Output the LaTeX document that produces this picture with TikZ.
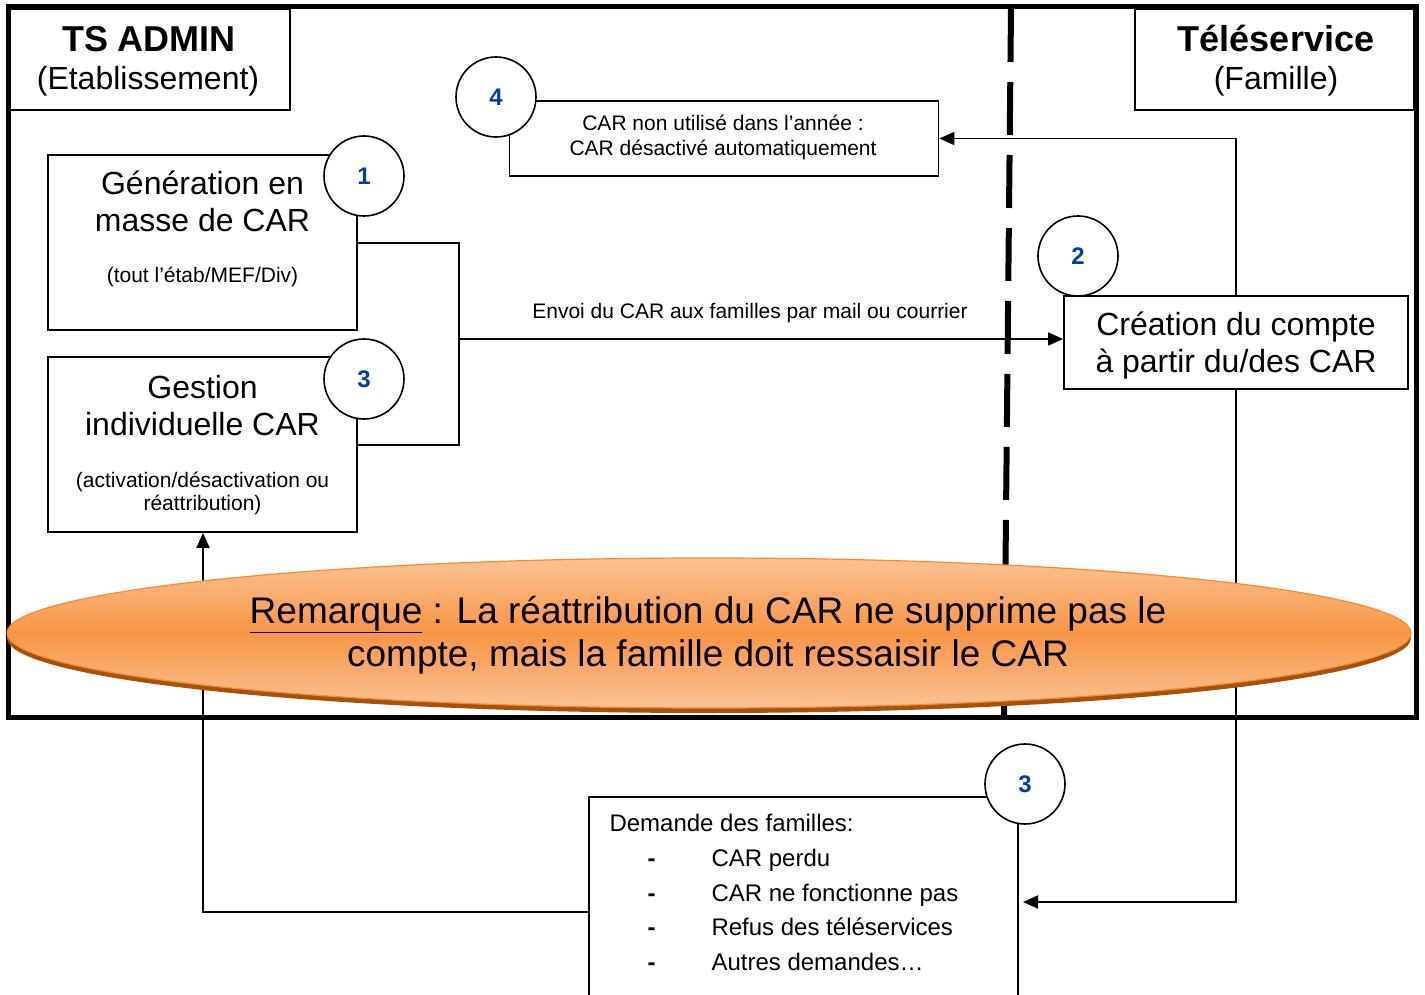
\documentclass[tikz,border=0pt]{standalone}
\usepackage{fontspec}
\setmainfont{Liberation Sans}
\usetikzlibrary{arrows.meta,shapes.geometric}
\definecolor{numblue}{RGB}{10,60,160}
\definecolor{orMid}{RGB}{247,150,70}
\definecolor{orLight}{RGB}{250,194,148}
\definecolor{orDark}{RGB}{165,82,12}
\definecolor{orEdge}{RGB}{242,140,56}
\begin{document}
\begin{tikzpicture}[x=1pt,y=-1pt,
  box/.style={draw,line width=1.8pt,rectangle,inner sep=0pt,fill=white},
  num/.style={draw,circle,fill=white,line width=1.6pt,minimum size=80pt,inner sep=0pt,
    font=\fontsize{24}{28}\selectfont\bfseries,text=numblue},
  conn/.style={line width=1.8pt},
  arr/.style={conn,-{Triangle[length=15pt,width=13pt]}},
  head/.style={font=\fontsize{36}{42}\selectfont\bfseries,anchor=base},
  sub/.style={font=\fontsize{32}{38}\selectfont,anchor=base},
  big/.style={font=\fontsize{32}{38}\selectfont,anchor=base},
  small/.style={font=\fontsize{21}{25}\selectfont,anchor=base},
  mid/.style={font=\fontsize{24}{28}\selectfont,anchor=base west},
  remtxt/.style={font=\fontsize{37}{44}\selectfont,anchor=base},
]
\useasboundingbox (0,0) rectangle (1425,995);
\fill[white] (0,0) rectangle (1425,995);

% outer frame
\node[draw,line width=5pt,rectangle,inner sep=0pt,minimum width=1408pt,minimum height=710pt] (frame) at (712,362) {};

% headers
\node[box,minimum width=280pt,minimum height=101pt] (hadmin) at (150,59.5) {};
\node[head] (hadmint) at (149,52) {TS ADMIN};
\node[sub] (hadmins) at (148,90) {(Etablissement)};
\node[box,minimum width=279pt,minimum height=101pt] (htele) at (1274.5,59.5) {};
\node[head] (htelet) at (1276,52) {Téléservice};
\node[sub] (hteles) at (1276,90) {(Famille)};

% dashed separator
\coordinate (dtop) at (1011,9);
\coordinate (dbot) at (1004,717);
\draw[line width=6pt,dash pattern=on 53pt off 20pt] (dtop) -- (dbot);

% boxes
\node[box,minimum width=309pt,minimum height=175pt] (b1) at (202.5,242.5) {};
\node[big] (b1a) at (202.5,195) {Génération en};
\node[big] (b1b) at (202.5,232) {masse de CAR};
\node[small] (b1c) at (202.5,283) {(tout l’étab/MEF/Div)};

\node[box,minimum width=309pt,minimum height=175pt] (b3) at (202.5,444.5) {};
\node[big] (b3a) at (202.5,398) {Gestion};
\node[big] (b3b) at (202.5,435) {individuelle CAR};
\node[small] (b3c) at (202.5,487) {(activation/désactivation ou};
\node[small] (b3d) at (202.5,510) {réattribution)};

\node[box,minimum width=429pt,minimum height=75pt] (b4) at (724,138.5) {};
\node[small] (b4a) at (723,131) {CAR non utilisé dans l’année :};
\node[small] (b4b) at (723,156) {CAR désactivé automatiquement};

\node[box,minimum width=344pt,minimum height=93pt] (b2) at (1236,342.5) {};
\node[big] (b2a) at (1236,335) {Création du compte};
\node[big] (b2b) at (1236,372) {à partir du/des CAR};

\node[box,minimum width=429pt,minimum height=208pt] (b5) at (803.5,901) {};
\node[mid] (b5a) at (606,831) {Demande des familles:};
\node[mid,font=\fontsize{24}{28}\selectfont\bfseries] (d1) at (644,866) {-};
\node[mid,font=\fontsize{24}{28}\selectfont\bfseries] (d2) at (644,901) {-};
\node[mid,font=\fontsize{24}{28}\selectfont\bfseries] (d3) at (644,935) {-};
\node[mid,font=\fontsize{24}{28}\selectfont\bfseries] (d4) at (644,970) {-};
\node[mid] (i1) at (708,866) {CAR perdu};
\node[mid] (i2) at (708,901) {CAR ne fonctionne pas};
\node[mid] (i3) at (708,935) {Refus des téléservices};
\node[mid] (i4) at (708,970) {Autres demandes…};

% connectors
\coordinate (jt) at (459,243);
\coordinate (jb) at (459,445);
\coordinate (ja) at (459,339);
\draw[conn] (b1.east |- jt) -- (jt) -- (jb) -- (b3.east |- jb);
\draw[arr] (ja) -- (ja -| b2.west);
\node[small] (envoi) at (750,318) {Envoi du CAR aux familles par mail ou courrier};
\draw[arr] (b2.north) -- (b2.north |- b4.east) -- (b4.east);
\coordinate (jr) at (1236,902);
\coordinate (jrt) at (1023,902);
\draw[arr] (b2.south) -- (jr) -- (jrt);
\coordinate (jl) at (203,912);
\draw[arr] (b5.west |- jl) -- (jl) -- (jl |- b3.south);

% numbered circles
\node[num] (c4) at (496,97) {4};
\node[num] (c1) at (364,176) {1};
\node[num] (c2) at (1078,256) {2};
\node[num] (c3) at (364,379) {3};
\node[num] (c3b) at (1025,784) {3};

% remark ellipse
\node[ellipse,fill=orDark,inner sep=0pt,minimum width=1404pt,minimum height=150pt] (remshadow) at (709,638) {};
\node[ellipse,draw=orEdge,line width=1.2pt,top color=orLight,bottom color=orLight,middle color=orMid,
  inner sep=0pt,minimum width=1404pt,minimum height=150pt] (rem) at (709,633) {};
\node[remtxt] (rem1) at (708,623) {\underline{Remarque} : La réattribution du CAR ne supprime pas le};
\node[remtxt] (rem2) at (708,666) {compte, mais la famille doit ressaisir le CAR};
\end{tikzpicture}
\end{document}
